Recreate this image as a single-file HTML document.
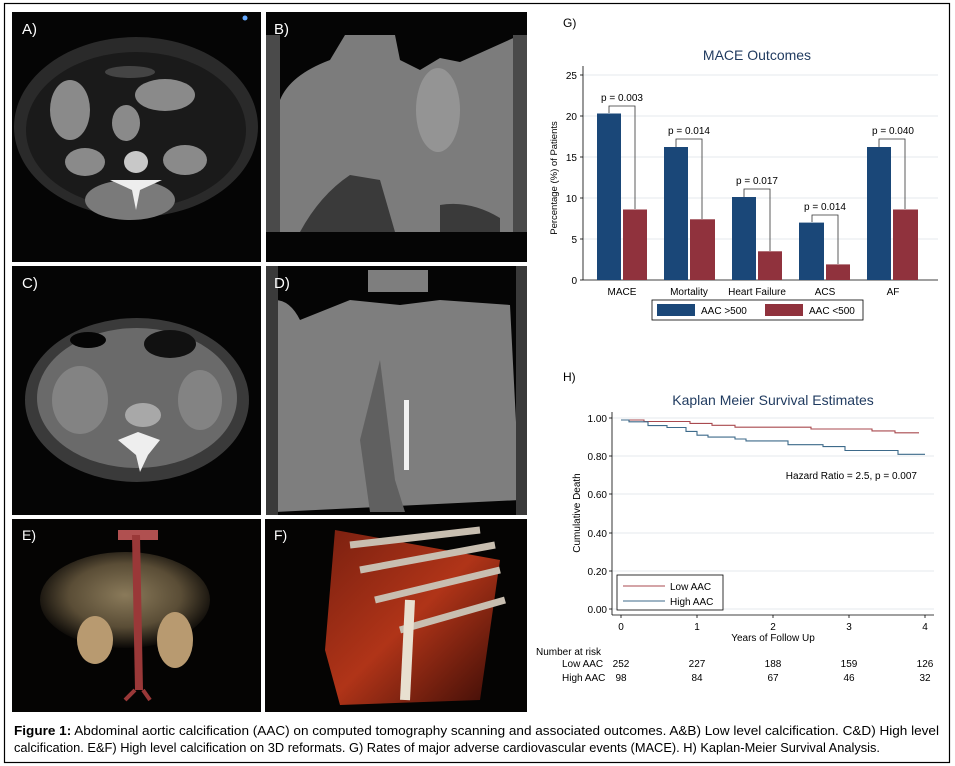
<!DOCTYPE html>
<html><head><meta charset="utf-8"><style>
html,body{margin:0;padding:0;background:#fff;}
svg{display:block;font-family:"Liberation Sans",sans-serif;}
</style></head><body>
<svg width="955" height="766" viewBox="0 0 955 766" xmlns="http://www.w3.org/2000/svg">
<defs>
<radialGradient id="gE" cx="50%" cy="45%" r="55%"><stop offset="0" stop-color="#8a7a5a"/><stop offset="0.6" stop-color="#5a4d36"/><stop offset="1" stop-color="#0a0806"/></radialGradient>
<linearGradient id="gF" x1="0" y1="0" x2="1" y2="1"><stop offset="0" stop-color="#7a2010"/><stop offset="0.5" stop-color="#b03418"/><stop offset="1" stop-color="#3a0c06"/></linearGradient>
</defs>
<rect x="0" y="0" width="955" height="766" fill="#fff"/>
<rect x="4.5" y="3.5" width="945" height="759" fill="none" stroke="#000" stroke-width="1.2"/>

<!-- A -->
<rect x="12" y="12" width="249" height="250" fill="#050505"/>
<ellipse cx="136" cy="127" rx="122" ry="90" fill="#2a2a2a"/>
<ellipse cx="136" cy="130" rx="110" ry="78" fill="#1a1a1a"/>
<ellipse cx="70" cy="110" rx="20" ry="30" fill="#8a8a8a"/>
<ellipse cx="165" cy="95" rx="30" ry="16" fill="#8a8a8a"/>
<ellipse cx="85" cy="162" rx="20" ry="14" fill="#8a8a8a"/>
<ellipse cx="185" cy="160" rx="22" ry="15" fill="#8a8a8a"/>
<ellipse cx="130" cy="200" rx="45" ry="20" fill="#7a7a7a"/>
<ellipse cx="126" cy="123" rx="14" ry="18" fill="#8a8a8a"/>
<ellipse cx="136" cy="162" rx="12" ry="11" fill="#c8c8c8"/>
<path d="M110 180 L162 180 L140 190 L136 210 L132 190 Z" fill="#eee"/>
<ellipse cx="130" cy="72" rx="25" ry="6" fill="#444"/>
<text x="22" y="34" font-size="15" fill="#fff">A)</text>
<circle cx="245" cy="18" r="2.5" fill="#6af"/>

<!-- B -->
<rect x="266" y="12" width="261" height="250" fill="#050505"/>
<rect x="266" y="35" width="261" height="197" fill="#7c7c7c"/>
<path d="M278 35 L345 35 L330 60 Q290 75 280 100 Z" fill="#050505"/>
<path d="M395 35 L400 60 L420 70 L440 58 L460 62 L520 35 Z" fill="#050505"/>
<path d="M300 232 Q320 195 350 175 L380 180 L395 232 Z" fill="#3a3a3a"/>
<path d="M440 232 L440 205 Q470 200 500 218 L500 232 Z" fill="#3a3a3a"/>
<ellipse cx="438" cy="110" rx="22" ry="42" fill="#949494"/>
<rect x="266" y="35" width="14" height="197" fill="#4a4a4a"/>
<rect x="513" y="35" width="14" height="197" fill="#4a4a4a"/>
<text x="274" y="34" font-size="15" fill="#fff">B)</text>

<!-- C -->
<rect x="12" y="266" width="249" height="249" fill="#050505"/>
<ellipse cx="137" cy="400" rx="112" ry="82" fill="#3a3a3a"/>
<ellipse cx="137" cy="398" rx="100" ry="70" fill="#6a6a6a"/>
<ellipse cx="80" cy="400" rx="28" ry="34" fill="#838383"/>
<ellipse cx="200" cy="400" rx="22" ry="30" fill="#838383"/>
<ellipse cx="88" cy="340" rx="18" ry="8" fill="#050505"/>
<ellipse cx="170" cy="344" rx="26" ry="14" fill="#111"/>
<ellipse cx="143" cy="415" rx="18" ry="12" fill="#a8a8a8"/>
<path d="M118 440 L138 432 L160 440 L148 455 L140 472 L136 455 Z" fill="#eee"/>
<text x="22" y="288" font-size="15" fill="#fff">C)</text>

<!-- D -->
<rect x="266" y="266" width="261" height="249" fill="#050505"/>
<path d="M275 300 Q290 300 300 320 L350 300 L400 305 L440 300 L510 305 L520 500 L275 512 Z" fill="#7e7e7e"/>
<rect x="368" y="270" width="60" height="22" fill="#7e7e7e"/>
<path d="M380 360 L395 480 L405 512 L370 512 L360 440 Z" fill="#606060"/>
<rect x="404" y="400" width="5" height="70" fill="#f2f2f2"/>
<rect x="266" y="266" width="12" height="249" fill="#3a3a3a"/>
<rect x="516" y="266" width="11" height="249" fill="#3a3a3a"/>
<text x="274" y="288" font-size="15" fill="#fff">D)</text>

<!-- E -->
<rect x="12" y="519" width="249" height="193" fill="#050403"/>
<ellipse cx="125" cy="600" rx="85" ry="48" fill="url(#gE)"/>
<ellipse cx="95" cy="640" rx="18" ry="24" fill="#b89a70"/>
<ellipse cx="175" cy="640" rx="18" ry="28" fill="#b89a70"/>
<rect x="118" y="530" width="40" height="10" fill="#b05050"/>
<path d="M132 535 L140 535 L143 690 L135 690 Z" fill="#9a3838"/>
<path d="M135 690 L125 700 M143 690 L150 700" stroke="#9a3838" stroke-width="4"/>
<text x="22" y="540" font-size="14" fill="#fff">E)</text>

<!-- F -->
<rect x="265" y="519" width="262" height="193" fill="#050403"/>
<path d="M335 530 L500 560 L480 700 L340 705 L325 650 Z" fill="url(#gF)"/>
<path d="M350 545 L480 530 M360 570 L495 545 M375 600 L500 570 M400 630 L505 600" stroke="#c8beb0" stroke-width="7" fill="none"/>
<path d="M410 600 L405 700" stroke="#e8e0d0" stroke-width="10"/>
<text x="274" y="540" font-size="14" fill="#fff">F)</text>

<!-- G -->
<text x="563" y="27" font-size="12" fill="#000">G)</text>
<text x="757" y="60" font-size="14" fill="#1f3a5f" text-anchor="middle">MACE Outcomes</text>
<g stroke="#e6eaee" stroke-width="1">
<line x1="583" y1="239" x2="938" y2="239"/><line x1="583" y1="198" x2="938" y2="198"/><line x1="583" y1="157" x2="938" y2="157"/><line x1="583" y1="116" x2="938" y2="116"/><line x1="583" y1="75" x2="938" y2="75"/>
</g>
<line x1="583" y1="66" x2="583" y2="280" stroke="#000" stroke-width="0.8"/>
<line x1="583" y1="280" x2="938" y2="280" stroke="#000" stroke-width="0.8"/>
<g font-size="10" fill="#000" text-anchor="end">
<text x="577" y="284">0</text><text x="577" y="243">5</text><text x="577" y="202">10</text><text x="577" y="161">15</text><text x="577" y="120">20</text><text x="577" y="79">25</text>
</g>
<g stroke="#000" stroke-width="0.8"><line x1="580" y1="280" x2="583" y2="280"/><line x1="580" y1="239" x2="583" y2="239"/><line x1="580" y1="198" x2="583" y2="198"/><line x1="580" y1="157" x2="583" y2="157"/><line x1="580" y1="116" x2="583" y2="116"/><line x1="580" y1="75" x2="583" y2="75"/></g>
<text transform="translate(557,178) rotate(-90)" font-size="9.5" text-anchor="middle">Percentage (%) of Patients</text>
<g fill="#1a4778">
<rect x="597" y="113.5" width="24" height="166.5"/><rect x="664" y="147" width="24" height="133"/><rect x="732" y="197" width="24" height="83"/><rect x="799" y="222.6" width="25" height="57.4"/><rect x="867" y="147" width="24" height="133"/>
</g>
<g fill="#90323d">
<rect x="623" y="209.5" width="24" height="70.5"/><rect x="690" y="219.3" width="25" height="60.7"/><rect x="758" y="251.3" width="24" height="28.7"/><rect x="826" y="264.4" width="24" height="15.6"/><rect x="893" y="209.5" width="25" height="70.5"/>
</g>
<g fill="none" stroke="#333" stroke-width="0.8">
<path d="M609 113 V106 H635 V209"/><path d="M676 147 V139 H702 V219"/><path d="M744 197 V189 H770 V251"/><path d="M812 222 V215 H838 V264"/><path d="M879 147 V139 H905 V209"/>
</g>
<g font-size="10" text-anchor="middle">
<text x="622" y="101">p = 0.003</text><text x="689" y="134">p = 0.014</text><text x="757" y="184">p = 0.017</text><text x="825" y="210">p = 0.014</text><text x="893" y="134">p = 0.040</text>
<text x="622" y="295">MACE</text><text x="689" y="295">Mortality</text><text x="757" y="295">Heart Failure</text><text x="825" y="295">ACS</text><text x="893" y="295">AF</text>
</g>
<rect x="652" y="300" width="211" height="20" fill="#fff" stroke="#000" stroke-width="0.8"/>
<rect x="657" y="304" width="38" height="12" fill="#1a4778"/>
<text x="701" y="314" font-size="10">AAC &gt;500</text>
<rect x="765" y="304" width="38" height="12" fill="#90323d"/>
<text x="809" y="314" font-size="10">AAC &lt;500</text>

<!-- H -->
<text x="563" y="381" font-size="12" fill="#000">H)</text>
<text x="773" y="405" font-size="14" fill="#1f3a5f" text-anchor="middle">Kaplan Meier Survival Estimates</text>
<g stroke="#e6eaee" stroke-width="1">
<line x1="612" y1="418" x2="934" y2="418"/><line x1="612" y1="456" x2="934" y2="456"/><line x1="612" y1="494" x2="934" y2="494"/><line x1="612" y1="533" x2="934" y2="533"/><line x1="612" y1="571" x2="934" y2="571"/><line x1="612" y1="609" x2="934" y2="609"/>
</g>
<line x1="612" y1="412" x2="612" y2="615" stroke="#000" stroke-width="0.8"/>
<line x1="612" y1="615" x2="934" y2="615" stroke="#000" stroke-width="0.8"/>
<g font-size="10" text-anchor="end">
<text x="607" y="422">1.00</text><text x="607" y="460">0.80</text><text x="607" y="498">0.60</text><text x="607" y="537">0.40</text><text x="607" y="575">0.20</text><text x="607" y="613">0.00</text>
</g>
<g stroke="#000" stroke-width="0.8"><line x1="609" y1="418" x2="612" y2="418"/><line x1="609" y1="456" x2="612" y2="456"/><line x1="609" y1="494" x2="612" y2="494"/><line x1="609" y1="533" x2="612" y2="533"/><line x1="609" y1="571" x2="612" y2="571"/><line x1="609" y1="609" x2="612" y2="609"/>
<line x1="621" y1="615" x2="621" y2="618"/><line x1="697" y1="615" x2="697" y2="618"/><line x1="773" y1="615" x2="773" y2="618"/><line x1="849" y1="615" x2="849" y2="618"/><line x1="925" y1="615" x2="925" y2="618"/></g>
<text transform="translate(580,513) rotate(-90)" font-size="10" text-anchor="middle">Cumulative Death</text>
<g font-size="10" text-anchor="middle">
<text x="621" y="630">0</text><text x="697" y="630">1</text><text x="773" y="630">2</text><text x="849" y="630">3</text><text x="925" y="630">4</text>
<text x="773" y="641">Years of Follow Up</text>
</g>
<polyline fill="none" stroke="#a94a4f" stroke-width="1.1" points="621,420 644,420 644,421.5 690,421.5 690,423.4 712,423.4 712,425.3 735,425.3 735,427.2 811,427.2 811,429 872,429 872,430.9 895,430.9 895,432.8 919,432.8"/>
<polyline fill="none" stroke="#3d6a8a" stroke-width="1.1" points="621,420 629,420 629,421.8 648,421.8 648,425.6 667,425.6 667,427.5 686,427.5 686,431.4 697,431.4 697,435.2 708,435.2 708,437.1 735,437.1 735,439 746,439 746,440.9 788,440.9 788,444.7 823,444.7 823,446.6 845,446.6 845,450.5 898,450.5 898,454.3 925,454.3"/>
<text x="917" y="479" font-size="10" text-anchor="end">Hazard Ratio = 2.5, p = 0.007</text>
<rect x="617" y="575" width="106" height="35" fill="#fff" stroke="#000" stroke-width="0.8"/>
<line x1="623" y1="586" x2="665" y2="586" stroke="#a94a4f" stroke-width="1.1"/>
<line x1="623" y1="601" x2="665" y2="601" stroke="#3d6a8a" stroke-width="1.1"/>
<text x="670" y="590" font-size="10">Low AAC</text>
<text x="670" y="605" font-size="10">High AAC</text>
<g font-size="10">
<text x="536" y="655">Number at risk</text>
<text x="562" y="667">Low AAC</text><text x="562" y="681">High AAC</text>
</g>
<g font-size="10" text-anchor="middle">
<text x="621" y="667">252</text><text x="697" y="667">227</text><text x="773" y="667">188</text><text x="849" y="667">159</text><text x="925" y="667">126</text>
<text x="621" y="681">98</text><text x="697" y="681">84</text><text x="773" y="681">67</text><text x="849" y="681">46</text><text x="925" y="681">32</text>
</g>

<!-- caption -->
<text x="14" y="735" font-size="12.5" textLength="925" lengthAdjust="spacingAndGlyphs"><tspan font-weight="bold">Figure 1:</tspan> Abdominal aortic calcification (AAC) on computed tomography scanning and associated outcomes. A&amp;B) Low level calcification. C&amp;D) High level</text>
<text x="14" y="752" font-size="12.5" textLength="866" lengthAdjust="spacingAndGlyphs">calcification. E&amp;F) High level calcification on 3D reformats. G) Rates of major adverse cardiovascular events (MACE). H) Kaplan-Meier Survival Analysis.</text>
</svg>
</body></html>
